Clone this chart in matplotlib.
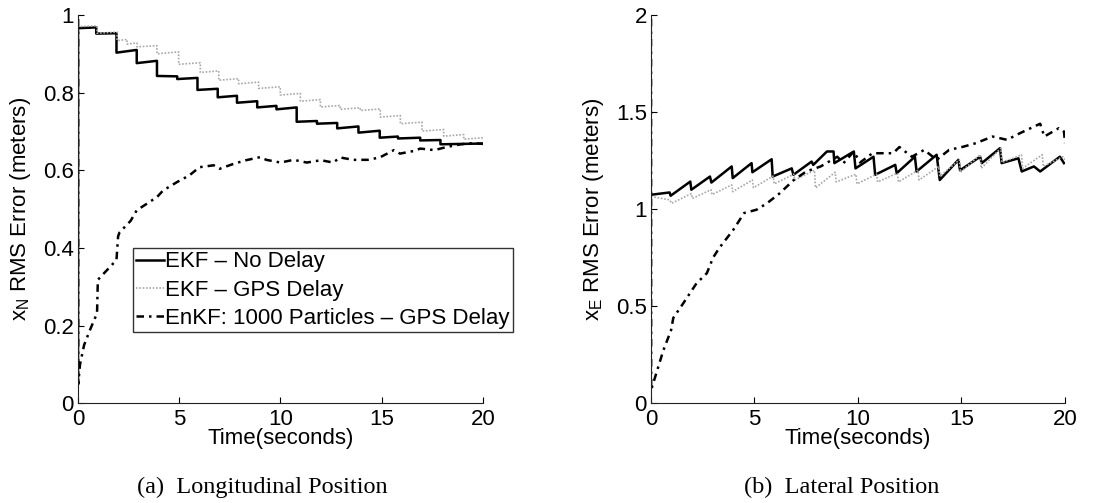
import numpy as np
import matplotlib
matplotlib.use("Agg")
import matplotlib.pyplot as plt
from matplotlib.ticker import FuncFormatter

plt.rcParams['font.family'] = ['Liberation Sans', 'DejaVu Sans']
plt.rcParams['mathtext.fontset'] = 'custom'
plt.rcParams['mathtext.rm'] = 'Liberation Sans'
plt.rcParams['mathtext.it'] = 'Liberation Sans'

# ---------------- Data: (a) Longitudinal ----------------
# EKF - No Delay: step segments (start time, start value, end value)
ekf_nd_a_t0 = [0.0, 0.9, 1.9, 2.9, 3.9, 4.9, 5.9, 6.9, 7.85, 8.85, 9.8, 10.8,
               11.8, 12.8, 13.85, 14.9, 15.8, 16.9, 17.9]
ekf_nd_a_start = [0.966, 0.952, 0.903, 0.876, 0.843, 0.835, 0.807, 0.788, 0.774,
                  0.762, 0.757, 0.725, 0.720, 0.708, 0.697, 0.684, 0.682, 0.677, 0.667]
ekf_nd_a_end = [0.968, 0.953, 0.910, 0.882, 0.842, 0.838, 0.810, 0.792, 0.778,
                0.766, 0.762, 0.727, 0.722, 0.713, 0.702, 0.687, 0.684, 0.678, 0.669]

# EKF - GPS Delay
ekf_gd_a_t0 = [0.0, 0.94, 1.93, 2.42, 2.91, 3.9, 4.97, 6.04, 6.95, 7.93, 8.92,
               9.99, 10.98, 11.97, 12.95, 13.94, 14.93, 15.92, 16.99, 18.06, 19.05]
ekf_gd_a_start = [0.970, 0.953, 0.934, 0.925, 0.918, 0.900, 0.873, 0.852, 0.832,
                  0.823, 0.811, 0.794, 0.778, 0.763, 0.757, 0.754, 0.737, 0.720,
                  0.701, 0.688, 0.680]
ekf_gd_a_end = [0.972, 0.956, 0.937, 0.928, 0.921, 0.905, 0.877, 0.856, 0.836,
                0.827, 0.815, 0.798, 0.782, 0.767, 0.761, 0.758, 0.741, 0.724,
                0.705, 0.692, 0.684]

# EnKF: 1000 Particles - GPS Delay
enkf_a_t = [0.0, 0.01, 0.1, 0.3, 0.6, 0.94, 0.98, 1.9, 1.98, 2.05, 2.6, 2.9, 3.4, 3.9,
            4.2, 4.9, 5.5, 6.0, 6.7, 7.0, 7.7, 8.3, 9.0, 9.3, 10.0, 10.65, 11.3,
            12.0, 12.6, 12.95, 13.6, 14.3, 14.9, 15.6, 15.9, 16.6, 16.9, 17.6,
            18.2, 18.9, 19.5, 20.0]
enkf_a_v = [3.0, 0.05, 0.10, 0.15, 0.19, 0.232, 0.318, 0.369, 0.43, 0.44, 0.47,
            0.497, 0.514, 0.531, 0.548, 0.57, 0.587, 0.608, 0.613, 0.604, 0.617,
            0.626, 0.634, 0.627, 0.62, 0.627, 0.62, 0.626, 0.62, 0.633, 0.627,
            0.627, 0.633, 0.652, 0.643, 0.65, 0.656, 0.652, 0.66, 0.667, 0.67,
            0.668]

# ---------------- Data: (b) Lateral ----------------
ekf_nd_b_t = [0.0, 0.9, 0.95, 1.9, 1.95, 2.85, 2.92, 3.9, 3.95, 4.86, 4.9, 5.83,
              5.88, 6.8, 6.88, 7.76, 7.84, 8.5, 8.82, 8.86, 9.8, 9.88, 10.75,
              10.83, 11.8, 11.87, 12.75, 12.83, 13.8, 13.95, 14.85, 14.93, 15.9,
              15.98, 16.86, 16.94, 17.75, 17.91, 18.5, 18.8, 19.75, 19.95]
ekf_nd_b_v = [1.074, 1.086, 1.069, 1.142, 1.10, 1.168, 1.137, 1.22, 1.16, 1.237,
              1.19, 1.257, 1.168, 1.21, 1.177, 1.245, 1.228, 1.297, 1.297, 1.237,
              1.297, 1.21, 1.27, 1.177, 1.228, 1.185, 1.27, 1.194, 1.28, 1.15,
              1.254, 1.20, 1.27, 1.237, 1.314, 1.237, 1.262, 1.194, 1.22, 1.194,
              1.27, 1.237]

ekf_gd_b_t = [0.0, 0.9, 1.0, 1.95, 2.0, 2.9, 2.95, 3.9, 3.95, 4.9, 4.95, 5.9, 5.95,
              6.9, 6.95, 7.9, 7.95, 8.9, 8.95, 9.9, 9.95, 10.9, 10.95, 11.9,
              11.95, 12.9, 12.95, 13.9, 13.95, 14.9, 14.95, 15.9, 15.95, 16.9,
              16.95, 17.9, 17.95, 18.9, 18.95, 19.9, 20.0]
ekf_gd_b_v = [1.065, 1.048, 1.03, 1.08, 1.055, 1.10, 1.075, 1.125, 1.09, 1.15,
              1.11, 1.17, 1.13, 1.18, 1.15, 1.20, 1.11, 1.19, 1.14, 1.18, 1.13,
              1.18, 1.14, 1.185, 1.14, 1.20, 1.15, 1.22, 1.17, 1.254, 1.19, 1.28,
              1.21, 1.314, 1.24, 1.28, 1.21, 1.28, 1.22, 1.27, 1.254]

enkf_b_t = [0.0, 0.01, 0.08, 0.6, 0.97, 1.08, 1.56, 2.2, 2.7, 3.0, 3.3, 3.98, 4.5,
            5.1, 5.6, 6.2, 6.9, 7.5, 8.2, 9.0, 9.3, 9.8, 10.1, 10.7, 11.7, 12.0,
            12.6, 13.2, 13.8, 14.4, 15.1, 15.7, 16.5, 17.2, 17.8, 18.5, 18.8,
            19.0, 19.7, 19.95, 20.0]
enkf_b_v = [3.0, 0.07, 0.093, 0.273, 0.376, 0.44, 0.515, 0.618, 0.67, 0.75, 0.80,
            0.894, 0.98, 0.997, 1.03, 1.08, 1.15, 1.194, 1.22, 1.27, 1.237,
            1.297, 1.24, 1.288, 1.288, 1.32, 1.27, 1.305, 1.254, 1.305, 1.322,
            1.34, 1.374, 1.357, 1.39, 1.425, 1.44, 1.374, 1.417, 1.40, 1.34]

labels = ["EKF \u2013 No Delay", "EKF \u2013 GPS Delay",
          "EnKF: 1000 Particles \u2013 GPS Delay"]
xticks = [0, 5, 10, 15, 20]
yticks_a = [0, 0.2, 0.4, 0.6, 0.8, 1.0]
yticks_b = [0, 0.5, 1.0, 1.5, 2.0]


def seg_xy(t0, vs, ve, tend=20.0):
    xs, ys = [], []
    for i in range(len(t0)):
        t1 = t0[i + 1] if i + 1 < len(t0) else tend
        xs += [t0[i], t1]
        ys += [vs[i], ve[i]]
    return xs, ys


FS = 16

fig = plt.figure(figsize=(11.08, 5.03), dpi=100)
axA = fig.add_axes([0.0704, 0.1982, 0.3655, 0.772])
axB = fig.add_axes([0.5875, 0.1982, 0.3737, 0.772])

solid_kw = dict(color='black', lw=1.8, ls='-')
dot_kw = dict(color='#a8a8a8', lw=1.2, ls=(0, (1, 1)))
dd_kw = dict(color='black', lw=1.8, ls=(0, (3, 2, 1, 2)))

x, y = seg_xy(ekf_nd_a_t0, ekf_nd_a_start, ekf_nd_a_end)
axA.plot([0] + x, [0.05] + y, label=labels[0], **solid_kw)
x, y = seg_xy(ekf_gd_a_t0, ekf_gd_a_start, ekf_gd_a_end)
axA.plot([0] + x, [0.05] + y, label=labels[1], **dot_kw)
axA.plot(enkf_a_t, enkf_a_v, label=labels[2], **dd_kw)

axB.plot(ekf_nd_b_t, ekf_nd_b_v, **solid_kw)
axB.plot(ekf_gd_b_t, ekf_gd_b_v, **dot_kw)
axB.plot(enkf_b_t, enkf_b_v, **dd_kw)

fmt = FuncFormatter(lambda v, p: ('%g' % v))
for ax, yt, sub in ((axA, yticks_a, 'N'), (axB, yticks_b, 'E')):
    ax.set_xlim(0, 20)
    ax.set_ylim(yt[0], yt[-1])
    ax.set_xticks(xticks)
    ax.set_yticks(yt)
    ax.xaxis.set_major_formatter(fmt)
    ax.yaxis.set_major_formatter(fmt)
    for s in ('top', 'right'):
        ax.spines[s].set_visible(False)
    for s in ('left', 'bottom'):
        ax.spines[s].set_linewidth(0.8)
        ax.spines[s].set_color('#222222')
    ax.tick_params(direction='in', length=4, width=0.8, labelsize=FS)
    ax.tick_params(axis='x', pad=4)
    ax.tick_params(axis='y', pad=3)
    ax.set_xlabel('Time(seconds)', fontsize=FS, labelpad=-1)
    ax.set_ylabel(r'x$_\mathregular{%s}$ RMS Error (meters)' % sub, fontsize=FS,
                  labelpad=7)

leg = axA.legend(loc='upper left', bbox_to_anchor=(0.136, 0.40), borderaxespad=0,
                 fontsize=FS, frameon=True, fancybox=False, handlelength=1.25,
                 handletextpad=0.05, labelspacing=0.33, borderpad=0.15)
leg.get_frame().set_edgecolor('black')
leg.get_frame().set_linewidth(1.0)
leg.set_clip_on(False)

fig.text(262 / 1108, 1 - 487 / 503, '(a)  Longitudinal Position', ha='center',
         va='center', fontsize=17.5, family='Liberation Serif')
fig.text(842 / 1108, 1 - 487 / 503, '(b)  Lateral Position', ha='center',
         va='center', fontsize=17.5, family='Liberation Serif')

fig.savefig('out.png', dpi=100)
